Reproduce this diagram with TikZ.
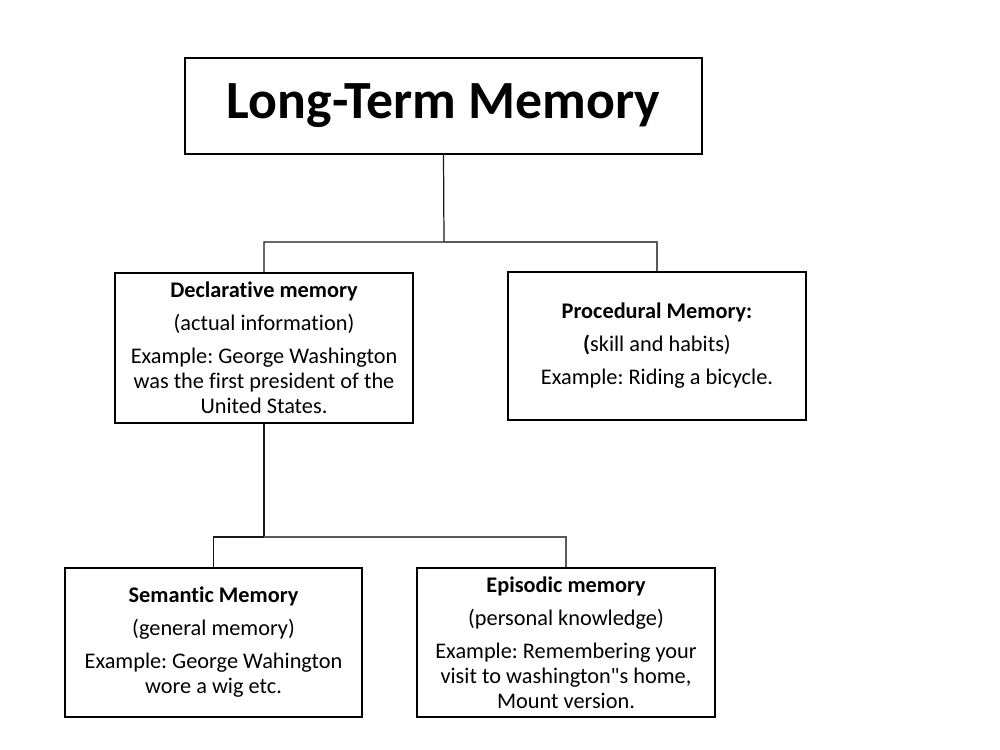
\documentclass[tikz,border=0pt]{standalone}
\usepackage{fontspec}
\setmainfont[Ligatures={NoCommon,TeXOff}]{Carlito}
\frenchspacing
\begin{document}
\begin{tikzpicture}[x=0.02cm,y=-0.02cm,
  box/.style={draw=black,line width=0.7pt,inner sep=0pt,align=center,
    font=\fontsize{12.7}{14.2}\selectfont},
  conn/.style={line width=0.7pt,draw=black!90},
  connr/.style={line width=0.7pt,draw=black!65}]
\useasboundingbox (0,0) rectangle (1000,750);
\node[box,minimum width=517*0.02cm,minimum height=96*0.02cm,
  font=\fontsize{30.6}{36}\selectfont\bfseries] (title) at (443.5,106) {Long-Term Memory};
\node[box,minimum width=298*0.02cm,minimum height=150*0.02cm] (decl) at (264,348)
  {\textbf{Declarative memory}\\[4.6pt](actual information)\\[4.6pt]Example: George Washington\\was the first president of the\\United States.};
\node[box,minimum width=298*0.02cm,minimum height=148*0.02cm] (proc) at (657,346)
  {\textbf{Procedural Memory:}\\[4.6pt]\textbf{(}skill and habits)\\[4.6pt]Example: Riding a bicycle.};
\node[box,minimum width=297*0.02cm,minimum height=149*0.02cm] (sem) at (213.5,642.5)
  {\textbf{Semantic Memory}\\[4.6pt](general memory)\\[4.6pt]Example: George Wahington\\wore a wig etc.};
\node[box,minimum width=298*0.02cm,minimum height=149*0.02cm] (epi) at (566,642.5)
  {\textbf{Episodic memory}\\[4.6pt](personal knowledge)\\[4.6pt]Example: Remembering your\\visit to washington"s home,\\Mount version.};
\coordinate (j1) at (444,242);
\coordinate (j2) at (264,537);
\draw[conn] (title.south) -- (j1) -| (decl.north);
\draw[connr] (j1) -| (proc.north);
\draw[conn] (decl.south) -- (j2) -| (sem.north);
\draw[connr] (j2) -| (epi.north);
\end{tikzpicture}
\end{document}
